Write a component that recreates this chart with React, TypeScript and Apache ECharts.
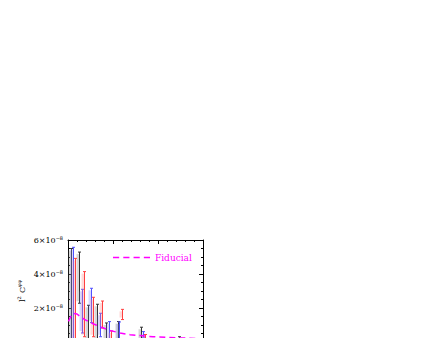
import React, { useEffect, useRef } from "react";
import * as echarts from "echarts";

const UNIT = 1e-8;
const fidEll = [5, 33, 67, 100, 133, 178, 244, 311, 378, 467, 578, 689, 822, 944, 1078, 1244, 1500];
const fidVal = [1.21, 1.53, 1.68, 1.65, 1.5, 1.35, 1.15, 1.0, 0.85, 0.68, 0.53, 0.43, 0.37, 0.31, 0.28, 0.24, 0.19];

const blackEll = [28, 126, 222, 326, 426, 550, 806, 1233];
const blackHi = [5.5, 5.29, 2.16, 2.22, 1.12, 1.2, 0.87, 0.31];
const blackLo = [-0.3, 2.28, -0.3, -0.3, -0.3, -0.3, -0.3, -0.3];

const blueEll = [56, 156, 252, 352, 451, 570, 831, 1256];
const blueHi = [5.57, 3.1, 3.16, 1.69, 1.2, 1.18, 0.61, 0.2];
const blueLo = [-0.3, 0.53, 1.14, 0.31, -0.3, -0.3, 0.28, -0.3];

const redEll = [81, 183, 278, 376, 476, 602, 852, 1278];
const redHi = [4.92, 4.14, 2.63, 2.41, 0.65, 1.92, 0.44, 0.15];
const redLo = [-0.3, 0.31, 0.31, 0.82, -0.3, 1.32, -0.3, -0.3];

const yTicks = [0, 2, 4, 6];

function errSeries(name: string, ell: number[], hi: number[], lo: number[], color: string, box: string) {
  return {
    name,
    type: "custom",
    clip: true,
    xAxisIndex: 0,
    yAxisIndex: 0,
    data: ell.map((e, i) => [e, lo[i] * UNIT, hi[i] * UNIT]),
    renderItem: (params: any, api: any) => {
      const x = api.value(0);
      const pLo = api.coord([x, api.value(1)]);
      const pHi = api.coord([x, api.value(2)]);
      const cx = Math.round(pHi[0]) + 0.5;
      return {
        type: "group",
        children: [
          {
            type: "rect",
            shape: { x: cx - 3, y: pHi[1] + 2, width: 2.5, height: Math.max(0, pLo[1] - pHi[1] - 4) },
            style: { fill: box },
          },
          { type: "line", shape: { x1: cx, y1: pHi[1], x2: cx, y2: pLo[1] }, style: { stroke: color, lineWidth: 1 } },
          { type: "line", shape: { x1: cx - 1.5, y1: pHi[1], x2: cx + 1.5, y2: pHi[1] }, style: { stroke: color, lineWidth: 1 } },
          { type: "line", shape: { x1: cx - 1.5, y1: pLo[1], x2: cx + 1.5, y2: pLo[1] }, style: { stroke: color, lineWidth: 1 } },
        ],
      };
    },
  };
}

export default function App() {
  const ref = useRef<HTMLDivElement>(null);
  useEffect(() => {
    if (!ref.current) return;
    const chart = echarts.init(ref.current, undefined, { renderer: "svg" });
    const axisCommon = {
      axisLine: { show: true, onZero: false, lineStyle: { color: "#000", width: 1 } },
      axisTick: { show: true, inside: true, length: 4, lineStyle: { color: "#000" } },
      splitLine: { show: false },
    };
    const richY = {
      n: { fontFamily: "DejaVu Serif", fontSize: 8, color: "#000" },
      s: { fontFamily: "DejaVu Serif", fontSize: 5, color: "#000", verticalAlign: "top", padding: [0, 0, 5, 0] },
    };
    chart.setOption({
      animation: false,
      backgroundColor: "#fff",
      grid: { left: 68, top: 240, width: 135, height: 102, containLabel: false },
      legend: {
        show: true,
        data: [
          {
            name: "Fiducial",
            icon: "path://M0 0H6V1.5H0Z M10 0H16V1.5H10Z M20 0H26V1.5H20Z M30 0H36V1.5H30Z",
          },
        ],
        left: 113,
        top: 253,
        padding: 0,
        itemWidth: 37,
        itemHeight: 1.6,
        itemGap: 2,
        textStyle: { color: "#ff00ff", fontFamily: "DejaVu Serif", fontSize: 9 },
      },
      xAxis: [
        {
          type: "value",
          position: "bottom",
          min: 0,
          max: 1500,
          interval: 500,
          ...axisCommon,
          minorTick: { show: true, splitNumber: 5, length: 2, lineStyle: { color: "#000" } },
          axisLabel: { show: false },
        },
        {
          type: "value",
          position: "top",
          min: 0,
          max: 1500,
          interval: 500,
          ...axisCommon,
          minorTick: { show: true, splitNumber: 5, length: 2, lineStyle: { color: "#000" } },
          axisLabel: { show: false },
        },
      ],
      yAxis: [
        {
          type: "value",
          position: "left",
          min: 0,
          max: 6 * UNIT,
          interval: 2 * UNIT,
          ...axisCommon,
          minorTick: { show: true, splitNumber: 4, length: 2, lineStyle: { color: "#000" } },
          axisLabel: {
            show: true,
            margin: 5,
            formatter: (v: number) => {
              const k = Math.round(v / UNIT);
              if (!yTicks.includes(k) || k === 0) return "";
              return `{n|${k}×10}{s|−8}`;
            },
            rich: richY,
          },
          name: "{n|l}{s|2} {n|C}{s|φφ}",
          nameLocation: "middle",
          nameRotate: 90,
          nameGap: 40,
          nameTextStyle: { rich: richY },
        },
        {
          type: "value",
          position: "right",
          min: 0,
          max: 6 * UNIT,
          interval: 2 * UNIT,
          ...axisCommon,
          minorTick: { show: true, splitNumber: 4, length: 2, lineStyle: { color: "#000" } },
          axisLabel: { show: false },
        },
      ],
      series: [
        errSeries("black", blackEll, blackHi, blackLo, "#333333", "rgba(140,140,140,0.35)"),
        errSeries("blue", blueEll, blueHi, blueLo, "#5050ff", "rgba(130,130,255,0.3)"),
        errSeries("red", redEll, redHi, redLo, "#ff4040", "rgba(255,130,130,0.3)"),
        {
          name: "Fiducial",
          type: "line",
          xAxisIndex: 0,
          yAxisIndex: 0,
          data: fidEll.map((e, i) => [e, fidVal[i] * UNIT]),
          showSymbol: false,
          symbol: "none",
          clip: true,
          lineStyle: { color: "#ff00ff", width: 1.5, type: [6, 4] },
          itemStyle: { color: "#ff00ff" },
          z: 5,
        },
      ],
    });
    return () => chart.dispose();
  }, []);
  return (
    <div style={{ position: "fixed", left: 0, top: 0, width: 443, height: 338, overflow: "hidden", background: "#fff" }}>
      <div ref={ref} style={{ width: 443, height: 430 }} />
    </div>
  );
}
